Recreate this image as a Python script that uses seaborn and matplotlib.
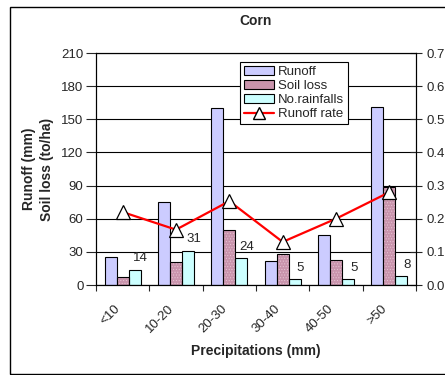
import numpy as np
import pandas as pd
import matplotlib
matplotlib.use("Agg")
import matplotlib.pyplot as plt
import matplotlib.transforms as mtransforms
from matplotlib.patches import Rectangle, Patch
from matplotlib.lines import Line2D
import seaborn as sns

categories = ["<10", "10-20", "20-30", "30-40", "40-50", ">50"]
runoff = [25, 75, 160, 22, 45, 161]
soil_loss = [7, 21, 50, 28, 23, 89]
no_rainfalls = [14, 31, 24, 5, 5, 8]
runoff_rate = [0.22, 0.167, 0.253, 0.13, 0.20, 0.28]
series_names = ["Runoff", "Soil loss", "No.rainfalls"]
left_ticks = [0, 30, 60, 90, 120, 150, 180, 210]
right_ticks = [0.0, 0.1, 0.2, 0.3, 0.4, 0.5, 0.6, 0.7]

sns.set_style("white")
plt.rcParams["font.family"] = ["Liberation Sans", "DejaVu Sans"]
plt.rcParams["hatch.linewidth"] = 0.4

df = pd.DataFrame({
    "cat": categories * 3,
    "val": runoff + soil_loss + no_rainfalls,
    "series": [series_names[0]] * 6 + [series_names[1]] * 6 + [series_names[2]] * 6,
})
colors = {"Runoff": "#CCCCFF", "Soil loss": "#C994AC", "No.rainfalls": "#CCFFFF"}
soil_hatch_color = "#E8C6D5"

W, H = 445, 375
fig = plt.figure(figsize=(W / 100, H / 100), dpi=100)
ax = fig.add_axes([96 / W, 1 - 285 / H, (416 - 96) / W, (285 - 53) / H])

sns.barplot(data=df, x="cat", y="val", hue="series", order=categories,
            hue_order=series_names, palette=colors, width=0.68, gap=0,
            edgecolor="black", linewidth=0.8, saturation=1, legend=False, ax=ax)

# hatch texture for soil loss
for bar in ax.containers[1]:
    bar.set_hatch("......")
    bar.set_edgecolor(soil_hatch_color)
    bar.set_linewidth(0)
    ax.add_patch(Rectangle(bar.get_xy(), bar.get_width(), bar.get_height(),
                           fill=False, edgecolor="black", linewidth=0.8, zorder=bar.get_zorder()))

# labels for No. rainfalls
for bar, v in zip(ax.containers[2], no_rainfalls):
    ax.annotate(str(v), (bar.get_x() + bar.get_width() / 2, bar.get_height()),
                xytext=(4, 4), textcoords="offset points", ha="center", va="bottom",
                fontsize=9.5)

ax.set_ylim(0, 210)
ax.set_yticks(left_ticks)
ax.set_xlim(-0.5, 5.5)
ax.yaxis.grid(True, color="black", linewidth=0.8)
ax.set_axisbelow(True)
for s in ax.spines.values():
    s.set_color("black")
    s.set_linewidth(0.8)
ax.tick_params(axis="y", direction="out", length=7, width=0.8, pad=2, labelsize=9.5, left=True)
ax.set_xticks(range(6))
ax.set_xticklabels(categories, rotation=45, ha="right", va="center", rotation_mode="anchor")
ax.tick_params(axis="x", which="major", length=0, pad=16, labelsize=9.5)
shift = mtransforms.ScaledTranslation(-4 / 100, 0, fig.dpi_scale_trans)
for lab in ax.get_xticklabels():
    lab.set_transform(lab.get_transform() + shift)
ax.set_xticks(np.arange(-0.5, 6, 1), minor=True)
ax.tick_params(axis="x", which="minor", direction="out", length=4, width=0.8, bottom=True)
ax.set_xlabel("Precipitations (mm)", fontsize=10, fontweight="bold", labelpad=6)
ax.set_ylabel("Runoff (mm)\nSoil loss (to/ha)", fontsize=10, fontweight="bold", labelpad=5,
              linespacing=1.35)
ax.set_title("Corn", fontsize=10, fontweight="bold", pad=20)

ax2 = ax.twinx()
sns.lineplot(x=np.arange(6), y=runoff_rate, color="#FF0000", linewidth=1.6,
             marker="^", markersize=10, markerfacecolor="white", markeredgecolor="black",
             markeredgewidth=0.9, ax=ax2, legend=False)
ax2.set_ylim(0, 0.7)
ax2.set_yticks(right_ticks)
ax2.set_yticklabels([f"{t:.1f}" for t in right_ticks])
ax2.tick_params(axis="y", direction="inout", length=9, width=0.8, pad=3, labelsize=9.5, right=True)
for s in ax2.spines.values():
    s.set_color("black")
    s.set_linewidth(0.8)

handles = [Patch(facecolor=colors["Runoff"], edgecolor="black", linewidth=0.8),
           Patch(facecolor=colors["Soil loss"], edgecolor="black", linewidth=0.8),
           Patch(facecolor=colors["No.rainfalls"], edgecolor="black", linewidth=0.8),
           Line2D([], [], color="#FF0000", linewidth=1.6, marker="^", markersize=8,
                  markerfacecolor="white", markeredgecolor="black")]
leg = ax2.legend(handles, ["Runoff", "Soil loss", "No.rainfalls", "Runoff rate"],
                 loc="upper left", bbox_to_anchor=(0.45, 0.961), borderaxespad=0,
                 fontsize=9.5, frameon=True, fancybox=False, edgecolor="black",
                 framealpha=1, labelspacing=0.15, handlelength=2.3, handleheight=0.6,
                 handletextpad=0.3, borderpad=0.3)
leg.get_frame().set_linewidth(0.8)

fig.patches.append(Rectangle((10 / W, 1 / H), 1.2, (374 - 7) / H, transform=fig.transFigure,
                             fill=False, edgecolor="black", linewidth=1.0))

fig.savefig("out.png", dpi=100, facecolor="white")
